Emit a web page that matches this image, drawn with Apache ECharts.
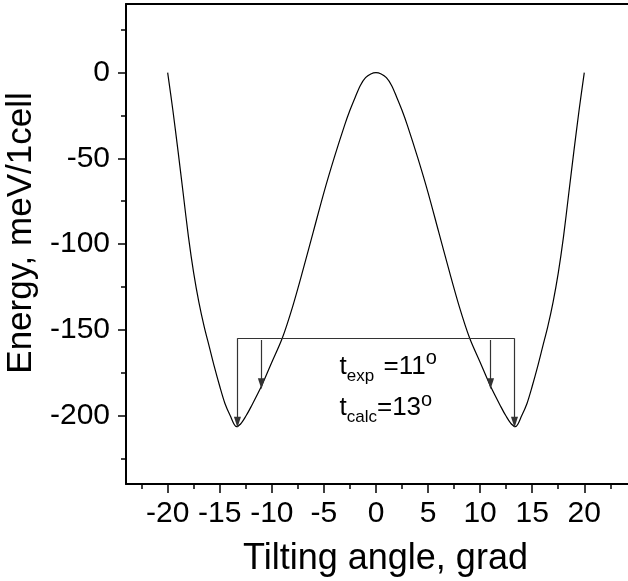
<!DOCTYPE html>
<html><head><meta charset="utf-8">
<script src="https://cdn.jsdelivr.net/npm/echarts@6/dist/echarts.min.js"></script>
<style>html,body{margin:0;padding:0;background:#fff}#c{width:628px;height:581px}</style>
</head><body><div id="c"></div>
<script>
// Data
const angles = [-20,-19.5,-19,-18.5,-18,-17.5,-17,-16.5,-16,-15.5,-15,-14.5,-14,-13.4,-13,-12.5,-12,-11,-10,-9,-8,-7,-6,-5,-4,-3,-2.5,-2,-1.5,-1,-0.5,0,0.5,1,1.5,2,2.5,3,4,5,6,7,8,9,10,11,12,12.5,13,13.4,14,14.5,15,15.5,16,16.5,17,17.5,18,18.5,19,19.5,20];
const energies = [0,-22,-46,-71,-96,-117,-134,-148,-160,-172,-183,-193,-200,-206.5,-205,-200.5,-195,-183,-169,-155,-136.5,-115,-92.5,-70,-49.5,-30.5,-22,-14.5,-7.5,-3,-0.8,0,-0.8,-3,-7.5,-14.5,-22,-30.5,-49.5,-70,-92.5,-115,-136.5,-155,-169,-183,-195,-200.5,-205,-206.5,-200,-193,-183,-172,-160,-148,-134,-117,-96,-71,-46,-22,0];
const xMajorTicks = [-20,-15,-10,-5,0,5,10,15,20];
const xMinorTicks = [-22.5,-17.5,-12.5,-7.5,-2.5,2.5,7.5,12.5,17.5,22.5];
const yMajorTicks = [-200,-150,-100,-50,0];
const yMinorTicks = [-225,-175,-125,-75,-25,25];
// annotation values
const levelEnergy = -155;
const calcAngles = [-13.3, 13.3];
const expAngles = [-11, 11];
const calcArrowEnd = -204;
const expArrowStart = -156;
const expArrowEnd = -181.5;
const expLabelPos = [-3.5, -171.5];
const calcLabelPos = [-3.5, -195.8];

const FONT = "'Liberation Sans', Arial, sans-serif";
const chart = echarts.init(document.getElementById('c'), null, {renderer: 'canvas'});

const X_MIN = -24, X_MAX = 25.83, Y_MIN = -240, Y_MAX = 40;
const lineSt = {color: '#000', width: 2};
const tickSt = {color: '#000', width: 1.5};

function tickAxis(pos, min, max, values, len) {
  return {type: 'value', position: pos, min: min, max: max,
    axisLine: {show: false, onZero: false},
    axisTick: {show: true, length: len, customValues: values, lineStyle: tickSt},
    axisLabel: {show: false}, splitLine: {show: false}};
}

const markLines = [
  [{coord: [calcAngles[0], levelEnergy], symbol: 'none'}, {coord: [calcAngles[1], levelEnergy], symbol: 'none'}],
  [{coord: [calcAngles[0], levelEnergy], symbol: 'none'}, {coord: [calcAngles[0], calcArrowEnd], symbol: 'triangle'}],
  [{coord: [calcAngles[1], levelEnergy], symbol: 'none'}, {coord: [calcAngles[1], calcArrowEnd], symbol: 'triangle'}],
  [{coord: [expAngles[0], expArrowStart], symbol: 'none'}, {coord: [expAngles[0], expArrowEnd], symbol: 'triangle'}],
  [{coord: [expAngles[1], expArrowStart], symbol: 'none'}, {coord: [expAngles[1], expArrowEnd], symbol: 'triangle'}]
];

const rich = {
  t: {fontSize: 26, fontFamily: FONT, color: '#000', lineHeight: 26, verticalAlign: 'middle'},
  n: {fontSize: 26, fontFamily: FONT, color: '#000', lineHeight: 26, verticalAlign: 'middle'},
  sub: {fontSize: 17, fontFamily: FONT, color: '#000', lineHeight: 17, verticalAlign: 'bottom'},
  sup: {fontSize: 20, fontFamily: FONT, color: '#000', lineHeight: 10, verticalAlign: 'top'},
  strut: {fontSize: 10, lineHeight: 36, verticalAlign: 'middle'}
};

const option = {
  animation: false,
  backgroundColor: '#fff',
  grid: {left: 126, top: 4, width: 519, height: 480, containLabel: false, outerBoundsMode: 'none'},
  xAxis: [
    {type: 'value', position: 'bottom', min: X_MIN, max: X_MAX,
     axisLine: {show: true, onZero: false, lineStyle: lineSt},
     axisTick: {show: false},
     axisLabel: {show: true, customValues: xMajorTicks, margin: 15, fontSize: 30, fontFamily: FONT, color: '#000'},
     splitLine: {show: false},
     name: 'Tilting angle, grad', nameLocation: 'middle', nameGap: 57,
     nameTextStyle: {fontSize: 36, fontFamily: FONT, color: '#000'}},
    tickAxis('bottom', X_MIN, X_MAX, xMajorTicks, 9),
    tickAxis('bottom', X_MIN, X_MAX, xMinorTicks, 5),
    {type: 'value', position: 'top', min: X_MIN, max: X_MAX,
     axisLine: {show: true, onZero: false, lineStyle: lineSt},
     axisTick: {show: false}, axisLabel: {show: false}, splitLine: {show: false}}
  ],
  yAxis: [
    {type: 'value', position: 'left', min: Y_MIN, max: Y_MAX,
     axisLine: {show: true, onZero: false, lineStyle: lineSt},
     axisTick: {show: false},
     axisLabel: {show: true, customValues: yMajorTicks, margin: 16, fontSize: 30, fontFamily: FONT, color: '#000'},
     splitLine: {show: false},
     name: 'Energy, meV/1cell', nameLocation: 'middle', nameGap: 83, nameRotate: 90,
     nameTextStyle: {fontSize: 35, fontFamily: FONT, color: '#000', padding: [0, 0, 0, 22]}},
    tickAxis('left', Y_MIN, Y_MAX, yMajorTicks, 8),
    tickAxis('left', Y_MIN, Y_MAX, yMinorTicks, 5)
  ],
  series: [{
    type: 'line',
    xAxisIndex: 0, yAxisIndex: 0,
    data: angles.map((a, i) => [a, energies[i]]),
    showSymbol: false,
    smooth: 0.3,
    lineStyle: {color: '#000', width: 1.2},
    markLine: {
      silent: true,
      symbolSize: [7, 11],
      lineStyle: {color: '#333', width: 1.2, type: 'solid'},
      itemStyle: {color: '#111'},
      label: {show: false},
      data: markLines
    },
    markPoint: {
      silent: true,
      symbol: 'circle', symbolSize: 0,
      data: [
        {coord: expLabelPos, label: {show: true, position: 'right', distance: 0,
          formatter: '{strut|}{t|t}{sub|exp  }{n|=11}{sup|o}', rich: rich}},
        {coord: calcLabelPos, label: {show: true, position: 'right', distance: 0,
          formatter: '{strut|}{t|t}{sub|calc}{n|=13}{sup|o}', rich: rich}}
      ]
    }
  }]
};
chart.setOption(option);
</script>
</body></html>
